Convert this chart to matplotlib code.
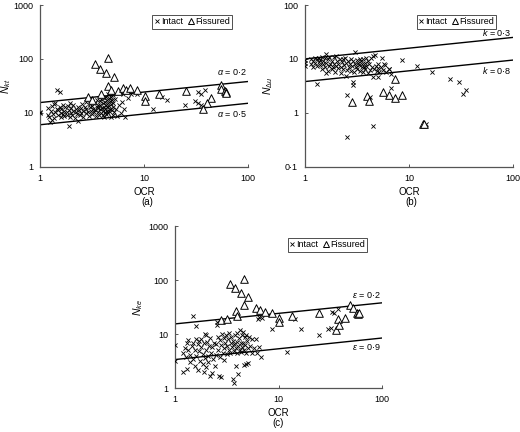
import numpy as np
import matplotlib
matplotlib.use("Agg")
import matplotlib.pyplot as plt
from matplotlib.lines import Line2D

plt.rcParams['font.family'] = ['Liberation Sans', 'DejaVu Sans']
plt.rcParams['mathtext.fontset'] = 'custom'
plt.rcParams['mathtext.rm'] = 'Liberation Sans'
plt.rcParams['mathtext.it'] = 'Liberation Sans:italic'

# ---- panel (a): N_kt ----
a_int_ocr = [1.0, 1.0, 1.2, 1.2, 1.22, 1.25, 1.28, 1.3, 1.3, 1.32, 1.35, 1.36, 1.4, 1.4, 1.45, 1.45,
             1.5, 1.5, 1.55, 1.55, 1.58, 1.6, 1.6, 1.65, 1.65, 1.7, 1.72, 1.75, 1.8, 1.8, 1.85, 1.9,
             1.9, 1.95, 1.95, 2.0, 2.0, 2.05, 2.1, 2.1, 2.15, 2.2, 2.2, 2.25, 2.3, 2.3, 2.4, 2.45,
             2.5, 2.5, 2.55, 2.6, 2.6, 2.7, 2.75, 2.8, 2.8, 2.9, 2.95, 3.0, 3.0, 3.1, 3.15, 3.2,
             3.25, 3.3, 3.35, 3.4, 3.45, 3.5, 3.5, 3.6, 3.6, 3.65, 3.7, 3.75, 3.8, 3.8, 3.85, 3.9,
             3.95, 4.0, 4.0, 4.05, 4.1, 4.1, 4.15, 4.2, 4.2, 4.25, 4.3, 4.3, 4.35, 4.4, 4.4, 4.45,
             4.5, 4.5, 4.55, 4.6, 4.6, 4.65, 4.7, 4.75, 4.8, 4.8, 4.85, 4.9, 4.95, 5.0, 5.0, 5.05,
             5.1, 5.2, 5.3, 5.4, 5.5, 5.8, 6.0, 6.2, 6.3, 6.5, 6.6, 7.0, 7.5, 8.5, 12.2, 15.0,
             16.8, 24.8, 30.8, 33.0, 35.7, 33.0, 35.7, 38.4]
a_int_n = [10.5, 10.0, 9.0, 12.5, 8.2, 6.7, 11.0, 7.5, 13.5, 9.5, 8.0, 14.5, 15.0, 10.5, 27.0, 12.0,
           9.0, 11.5, 24.0, 13.0, 10.0, 8.5, 12.0, 9.5, 14.0, 11.0, 8.8, 12.8, 10.2, 9.0, 13.5, 5.6,
           11.5, 8.5, 15.0, 10.0, 12.5, 9.2, 11.0, 14.0, 8.0, 12.0, 10.5, 9.5, 7.0, 13.0, 11.5, 9.0,
           12.5, 10.0, 14.5, 8.5, 11.0, 13.0, 9.8, 12.0, 16.0, 10.5, 8.8, 12.8, 14.5, 11.0, 9.5, 13.5,
           12.0, 10.2, 15.5, 11.5, 8.8, 13.0, 17.0, 10.5, 12.2, 14.2, 9.2, 16.5, 11.8, 13.8, 10.0, 18.0,
           12.5, 9.0, 15.0, 11.0, 13.0, 19.0, 8.5, 16.0, 12.0, 10.5, 14.0, 20.0, 9.5, 17.5, 12.8, 11.0,
           15.5, 22.0, 9.8, 13.5, 18.5, 10.8, 16.5, 12.0, 20.0, 8.5, 14.5, 11.5, 17.0, 9.0, 13.0, 21.0,
           15.0, 10.5, 18.0, 12.0, 8.8, 14.0, 10.0, 16.0, 22.0, 12.0, 8.5, 18.5, 22.0, 22.0, 11.8, 19.8,
           17.6, 13.8, 16.4, 15.3, 14.2, 24.0, 22.7, 27.0]
a_fis_ocr = [3.42, 3.77, 4.54, 4.34, 5.11, 4.54, 4.82, 3.91, 2.91, 3.18, 5.67, 6.34, 6.67, 7.36, 8.65,
             10.3, 10.3, 13.9, 25.2, 54.8, 54.8, 60.0, 61.3, 62.0, 44.6, 40.8, 37.3]
a_fis_n = [80.5, 66.0, 104.0, 55.0, 46.0, 32.0, 27.0, 22.8, 19.4, 17.6, 25.8, 29.0, 27.0, 29.0, 26.0,
           20.3, 16.9, 22.4, 25.0, 33.3, 27.8, 25.0, 24.0, 23.0, 18.9, 15.3, 11.9]
a_line_ocr = [1, 100]
a_line_hi = [15.5, 38.0]   # alpha = 0.2
a_line_lo = [6.0, 15.0]    # alpha = 0.5

# ---- panel (b): N_du ----
b_int_ocr = [1.0, 1.0, 1.0, 1.15, 1.15, 1.2, 1.2, 1.25, 1.25, 1.3, 1.3, 1.35, 1.35, 1.4, 1.4, 1.45,
             1.45, 1.5, 1.5, 1.55, 1.55, 1.6, 1.6, 1.6, 1.65, 1.65, 1.7, 1.7, 1.75, 1.8, 1.8, 1.85,
             1.9, 1.9, 1.95, 2.0, 2.0, 2.05, 2.1, 2.1, 2.15, 2.2, 2.2, 2.25, 2.3, 2.3, 2.4, 2.45,
             2.5, 2.5, 2.55, 2.6, 2.65, 2.7, 2.75, 2.8, 2.85, 2.9, 2.95, 3.0, 3.05, 3.1, 3.15, 3.2,
             3.25, 3.3, 3.35, 3.4, 3.45, 3.5, 3.55, 3.6, 3.65, 3.7, 3.75, 3.8, 3.85, 3.9, 4.0, 4.0,
             4.1, 4.2, 4.3, 4.4, 4.5, 4.6, 4.7, 4.8, 4.9, 5.0, 5.1, 5.2, 5.4, 5.5, 5.6, 5.8,
             6.0, 6.5, 1.3, 2.56, 2.56, 2.92, 2.9, 4.2, 4.5, 4.5, 5.0, 6.7, 6.8, 8.6, 11.9, 16.7,
             14.6, 24.7, 30.6, 33.0, 35.7, 6.4, 5.9]
b_int_n = [9.5, 8.3, 7.5, 10.0, 8.0, 9.2, 7.0, 10.5, 8.5, 9.8, 7.5, 8.8, 10.5, 7.8, 9.5, 6.5,
           11.0, 8.2, 9.0, 7.2, 10.2, 12.5, 5.5, 8.5, 6.0, 9.8, 7.5, 11.0, 8.0, 6.5, 9.2, 7.0,
           10.8, 8.2, 5.8, 7.5, 11.5, 9.0, 6.8, 8.0, 10.0, 7.2, 5.5, 8.8, 9.8, 6.5, 7.8, 10.5,
           8.5, 4.8, 6.2, 9.2, 7.0, 8.0, 10.0, 6.0, 7.5, 9.0, 5.6, 8.2, 13.5, 7.0, 9.5, 6.5,
           8.5, 7.8, 10.0, 6.0, 9.0, 7.2, 8.0, 5.8, 9.8, 7.0, 8.5, 6.5, 10.5, 7.5, 5.5, 9.0,
           8.0, 6.2, 10.5, 7.0, 11.5, 6.5, 12.0, 7.5, 6.0, 8.0, 6.8, 5.8, 7.0, 10.5, 6.2, 8.0,
           5.8, 6.5, 3.4, 2.1, 0.36, 3.8, 3.3, 2.0, 0.58, 4.6, 4.6, 2.9, 5.3, 9.5, 7.5, 5.8,
           0.63, 4.3, 3.8, 2.2, 2.7, 6.4, 7.8]
b_fis_ocr = [2.86, 3.94, 4.15, 5.6, 6.5, 7.4, 7.4, 8.6, 13.6, 14.0]
b_fis_n = [1.59, 2.03, 1.64, 2.4, 2.17, 1.89, 4.3, 2.17, 0.61, 0.62]
b_line_ocr = [1, 100]
b_line_hi = [10.0, 25.0]   # k = 0.3
b_line_lo = [3.8, 9.5]     # k = 0.8

# ---- panel (c): N_ke ----
c_int_ocr = [1.0, 1.0, 1.2, 1.2, 1.25, 1.28, 1.3, 1.3, 1.35, 1.35, 1.4, 1.4, 1.45, 1.5, 1.5, 1.5,
             1.55, 1.55, 1.6, 1.6, 1.6, 1.65, 1.65, 1.7, 1.7, 1.75, 1.8, 1.8, 1.85, 1.85, 1.9, 1.9,
             1.95, 1.95, 2.0, 2.0, 2.0, 2.05, 2.1, 2.1, 2.15, 2.2, 2.2, 2.25, 2.3, 2.3, 2.35, 2.4,
             2.45, 2.5, 2.5, 2.55, 2.55, 2.6, 2.6, 2.65, 2.7, 2.75, 2.8, 2.8, 2.85, 2.9, 2.95, 3.0,
             3.0, 3.05, 3.1, 3.15, 3.2, 3.25, 3.3, 3.35, 3.4, 3.45, 3.5, 3.55, 3.6, 3.65, 3.7, 3.7,
             3.75, 3.8, 3.85, 3.9, 3.95, 4.0, 4.0, 4.05, 4.1, 4.15, 4.2, 4.25, 4.3, 4.35, 4.4, 4.45,
             4.5, 4.55, 4.6, 4.65, 4.7, 4.75, 4.8, 4.85, 4.9, 5.0, 5.05, 5.1, 5.2, 5.3, 5.5, 5.6,
             5.8, 6.0, 6.2, 6.5, 6.5, 6.8, 7.0, 6.3, 8.6, 12.0, 14.5, 16.5, 24.7, 30.0, 32.5, 33.0,
             34.0, 37.6]
c_int_n = [6.3, 3.2, 4.5, 2.0, 5.5, 3.8, 6.8, 2.3, 5.0, 7.8, 4.2, 3.0, 6.0, 22.0, 7.0, 3.5,
           2.6, 5.2, 14.0, 4.0, 8.0, 6.5, 2.2, 4.8, 7.5, 3.2, 5.8, 8.2, 2.8, 4.3, 6.8, 2.0,
           10.0, 3.6, 5.0, 9.5, 2.5, 7.2, 4.0, 3.0, 6.0, 1.7, 8.5, 4.5, 1.9, 5.8, 3.5, 7.0,
           2.6, 6.5, 4.2, 15.0, 16.5, 9.0, 5.2, 1.7, 7.8, 3.8, 6.2, 1.6, 10.0, 4.5, 8.5, 5.5,
           3.3, 7.0, 9.5, 4.3, 6.0, 8.0, 5.0, 10.5, 4.4, 6.8, 9.0, 5.8, 7.5, 1.5, 1.25, 4.8,
           6.5, 9.8, 5.5, 2.6, 7.2, 4.5, 10.5, 6.0, 1.8, 8.5, 5.2, 12.0, 6.8, 4.6, 9.5, 5.8,
           10.8, 7.0, 5.0, 2.7, 8.8, 6.2, 2.8, 9.8, 4.5, 7.5, 5.5, 2.9, 9.0, 6.0, 8.0, 4.5,
           5.5, 8.2, 4.5, 21.0, 5.8, 3.8, 20.0, 19.0, 12.7, 4.6, 19.0, 12.5, 9.6, 12.4, 13.0, 25.8,
           24.5, 29.0]
c_fis_ocr = [3.4, 3.8, 4.33, 4.63, 5.1, 4.63, 3.88, 4.0, 6.1, 6.6, 7.4, 8.6, 10.1, 10.1, 13.6,
             24.7, 2.8, 3.2, 37.6, 35.8, 38.5, 43.6, 48.7, 52.0, 57.9, 59.0, 60.0]
c_fis_n = [84.0, 70.0, 57.0, 107.0, 48.0, 34.0, 27.0, 22.0, 30.0, 28.0, 26.0, 24.5, 20.0, 17.0, 22.0,
           25.0, 18.5, 19.0, 19.0, 12.2, 14.5, 20.0, 34.0, 30.0, 25.0, 23.5, 24.5]
c_line_ocr = [1, 100]
c_line_hi = [15.5, 38.0]   # epsilon = 0.2
c_line_lo = [3.4, 8.5]     # epsilon = 0.9

W, H = 520, 432
fig = plt.figure(figsize=(W / 100, H / 100), dpi=100)


def px_axes(x0, y0, x1, y1):
    return fig.add_axes([x0 / W, 1 - y1 / H, (x1 - x0) / W, (y1 - y0) / H])


def panel(ax, io, iv, fo, fv, lo, hi, low, ylim, yticks, ylabels, ylab, ylab_x, lab_hi, lab_lo,
          leg_anchor, lab_hi_y, lab_lo_y):
    ax.set_xscale('log')
    ax.set_yscale('log')
    ax.plot(lo, hi, color='black', lw=1.0, zorder=2)
    ax.plot(lo, low, color='black', lw=1.0, zorder=2)
    ax.scatter(io, iv, marker='x', s=9, color='black', linewidths=0.6, zorder=3)
    ax.scatter(fo, fv, marker='^', s=30, facecolors='white', edgecolors='black',
               linewidths=0.7, zorder=4)
    ax.set_xlim(1, 100)
    ax.set_ylim(*ylim)
    ax.set_xticks([1, 10, 100])
    ax.set_xticklabels(['1', '10', '100'])
    ax.set_yticks(yticks)
    ax.set_yticklabels(ylabels)
    ax.minorticks_off()
    for s in ['top', 'right']:
        ax.spines[s].set_visible(False)
    for s in ['left', 'bottom']:
        ax.spines[s].set_color('#555555')
        ax.spines[s].set_linewidth(0.9)
    ax.tick_params(direction='in', length=2.5, width=0.7, color='#555555',
                   labelsize=6.5, pad=5)
    ax.set_xlabel('OCR', fontsize=7, labelpad=3)
    ax.set_ylabel(ylab, fontsize=7.5)
    ax.yaxis.set_label_coords(ylab_x, 0.5)
    ax.text(0.995, lab_hi_y, lab_hi, transform=ax.transAxes, ha='right', va='center', fontsize=6.5)
    ax.text(0.995, lab_lo_y, lab_lo, transform=ax.transAxes, ha='right', va='center', fontsize=6.5)
    handles = [Line2D([], [], marker='x', ls='none', color='black', ms=3.2, mew=0.6),
               Line2D([], [], marker='^', ls='none', mfc='white', mec='black', ms=4.2, mew=0.7)]
    leg = ax.legend(handles, ['Intact', 'Fissured'], loc='upper right', bbox_to_anchor=leg_anchor,
                    ncol=2, fontsize=6.5, frameon=True, fancybox=False, borderaxespad=0,
                    handlelength=0.5, handletextpad=0.2, columnspacing=0.6, borderpad=0.25)
    leg.get_frame().set_edgecolor('black')
    leg.get_frame().set_linewidth(0.6)


ax_a = px_axes(40, 5, 247.7, 166.7)
panel(ax_a, a_int_ocr, a_int_n, a_fis_ocr, a_fis_n, a_line_ocr, a_line_hi, a_line_lo,
      (1, 1000), [1, 10, 100, 1000], ['1', '10', '100', '1000'], r'$N_{kt}$', -0.13,
      r'$\alpha$ = 0·2', r'$\alpha$ = 0·5', (0.924, 0.938), 0.586, 0.326)

ax_b = px_axes(305, 5, 512.7, 166.7)
panel(ax_b, b_int_ocr, b_int_n, b_fis_ocr, b_fis_n, b_line_ocr, b_line_hi, b_line_lo,
      (0.1, 100), [0.1, 1, 10, 100], ['0·1', '1', '10', '100'], r'$N_{\Delta u}$', -0.144,
      r'$k$ = 0·3', r'$k$ = 0·8', (0.92, 0.938), 0.833, 0.598)

ax_c = px_axes(175, 226, 382, 388.3)
panel(ax_c, c_int_ocr, c_int_n, c_fis_ocr, c_fis_n, c_line_ocr, c_line_hi, c_line_lo,
      (1, 1000), [1, 10, 100, 1000], ['1', '10', '100', '1000'], r'$N_{ke}$', -0.145,
      r'$\varepsilon$ = 0·2', r'$\varepsilon$ = 0·9', (0.928, 0.926), 0.575, 0.255)

fig.text(147 / W, 1 - 202 / H, '(a)', ha='center', va='center', fontsize=7)
fig.text(411 / W, 1 - 202 / H, '(b)', ha='center', va='center', fontsize=7)
fig.text(278 / W, 1 - 423 / H, '(c)', ha='center', va='center', fontsize=7)

fig.savefig('out.png', dpi=100)
